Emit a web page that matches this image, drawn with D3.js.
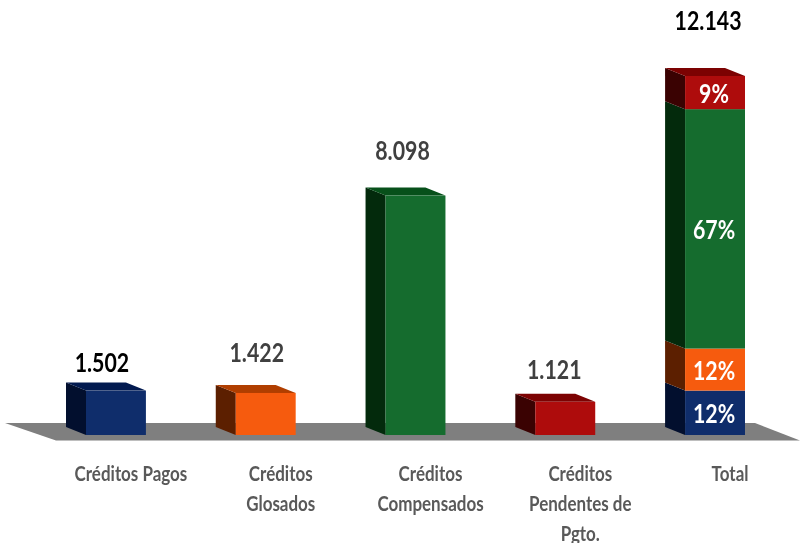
<!DOCTYPE html>
<html>
<head>
<meta charset="utf-8">
<script src="https://cdn.jsdelivr.net/npm/d3@7"></script>
<style>
  html, body { margin: 0; padding: 0; background: #fff; }
  svg { display: block; filter: blur(0.4px); }
  text { font-family: Lato, "Open Sans", sans-serif; font-weight: bold; }
</style>
</head>
<body>
<svg id="chart"></svg>
<script>
// values
const categories = ["Créditos Pagos", "Créditos Glosados", "Créditos Compensados", "Créditos Pendentes de Pgto.", "Total"];
const categoryLines = [["Créditos Pagos"], ["Créditos", "Glosados"], ["Créditos", "Compensados"], ["Créditos", "Pendentes de", "Pgto."], ["Total"]];
const values = [1502, 1422, 8098, 1121];
const totalLabel = 12143;
const sharesOfTotal = ["12%", "12%", "67%", "9%"];

// colours per series: front, side, top
const frontColors = ["#0f2d6b", "#f65b0e", "#156c2e", "#ae0c0c"];
const sideColors = ["#020f2e", "#5c1f00", "#032a0c", "#3a0202"];
const topColors = ["#021a50", "#b03e00", "#07501a", "#7c0202"];
const valueColors = ["#000", "#404040", "#404040", "#404040", "#000"];

// the source chart places its labels by hand, so nudge each one
const labelDx = [-14, -9, -13, -11, -7];
const labelDy = [19, 31, 36, 23, 46];

const width = 800, height = 543;
const depthX = 20, depthY = 8;
const squeeze = 0.79; // source text is horizontally squashed

const svg = d3.select("#chart").attr("width", width).attr("height", height);

const x = d3.scaleBand().domain(categories).range([86, 745]).paddingInner(0.6).paddingOuter(0);
const y = d3.scaleLinear().domain([0, totalLabel]).range([435, 76]);

const fmt = d3.formatLocale({ decimal: ",", thousands: ".", grouping: [3], currency: ["", ""] }).format(",d");

// floor
svg.append("path")
  .attr("d", "M5,423 L755,423 L800,440.5 L56,440.5 Z")
  .attr("fill", "#7f7f7f");

// one row per drawn block
const blocks = values.map((v, i) => ({ cat: categories[i], i, y0: 0, y1: v, top: true }));
let running = 0;
values.forEach((v, i) => {
  blocks.push({ cat: "Total", i, y0: running, y1: running + v, top: i === values.length - 1, share: sharesOfTotal[i] });
  running += v;
});

const block = svg.selectAll("g.block").data(blocks).enter().append("g").attr("class", "block");

block.append("path")
  .attr("fill", d => sideColors[d.i])
  .attr("d", d => {
    const l = x(d.cat), a = y(d.y0), b = y(d.y1);
    return `M${l},${a} L${l - depthX},${a - depthY} L${l - depthX},${b - depthY} L${l},${b} Z`;
  });

block.filter(d => d.top).append("path")
  .attr("fill", d => topColors[d.i])
  .attr("d", d => {
    const l = x(d.cat), r = l + x.bandwidth(), b = y(d.y1);
    return `M${l},${b} L${l - depthX},${b - depthY} L${r - depthX},${b - depthY} L${r},${b} Z`;
  });

block.append("rect")
  .attr("x", d => x(d.cat))
  .attr("y", d => y(d.y1))
  .attr("width", x.bandwidth())
  .attr("height", d => y(d.y0) - y(d.y1))
  .attr("fill", d => frontColors[d.i]);

// shares inside the total column
block.filter(d => d.share).append("text")
  .attr("transform", d => `translate(${x(d.cat) + x.bandwidth() / 2 - 1},${(y(d.y0) + y(d.y1)) / 2 + 10}) scale(${squeeze},1)`)
  .attr("text-anchor", "middle")
  .attr("font-size", 27)
  .attr("fill", "#fff")
  .text(d => d.share);

// value labels
const tops = [...values, totalLabel];
svg.selectAll("text.value").data(tops).enter().append("text")
  .attr("class", "value")
  .attr("transform", (d, i) => `translate(${x(categories[i]) + x.bandwidth() / 2 + labelDx[i]},${y(d) - labelDy[i]}) scale(${squeeze},1)`)
  .attr("text-anchor", "middle")
  .attr("font-size", 27)
  .attr("fill", (d, i) => valueColors[i])
  .text(d => fmt(d));

// category axis, labels only
const axis = svg.append("g")
  .attr("transform", "translate(15,455)")
  .call(d3.axisBottom(x).tickSize(0).tickPadding(0).tickFormat(""));
axis.select(".domain").remove();
axis.selectAll(".tick text").each(function (d) {
  const lines = categoryLines[categories.indexOf(d)];
  d3.select(this)
    .attr("y", 0)
    .attr("dy", null)
    .attr("font-size", 21.5)
    .attr("font-family", null)
    .attr("fill", "#595959")
    .attr("transform", `scale(${squeeze},1)`)
    .selectAll("tspan").data(lines).enter().append("tspan")
    .attr("x", 0)
    .attr("y", (l, i) => 26.5 + i * 30)
    .text(l => l);
});
</script>
</body>
</html>
